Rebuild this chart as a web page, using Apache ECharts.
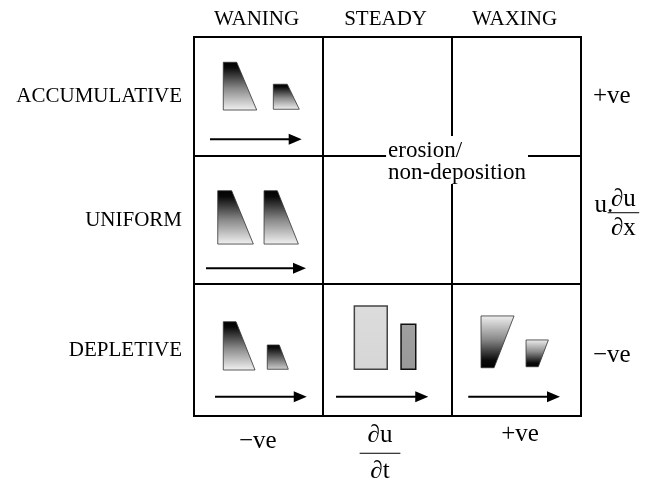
<!DOCTYPE html>
<html><head><meta charset="utf-8">
<script src="https://cdn.jsdelivr.net/npm/echarts@6/dist/echarts.min.js"></script>
<style>html,body{margin:0;padding:0;background:#fff}#c{width:649px;height:483px}</style>
</head><body><div id="c"></div>
<script>
// ---- data ----
const columns = ['WANING', 'STEADY', 'WAXING'];
const rows = ['ACCUMULATIVE', 'UNIFORM', 'DEPLETIVE'];
const rowEdges = [0, 0.942, 1.955, 3];
const rightSigns = ['+ve', '−ve'];
const rightFraction = ['u.', '∂u', '∂x'];
const bottomSigns = ['−ve', '+ve'];
const bottomFraction = ['∂u', '∂t'];
const centerNote = ['erosion/', 'non-deposition'];
// trapezoids: [xLeft, xTopRight, xBottomRight, yTop, yBottom]
const trapezoids = [
  [0.227, 0.331, 0.486, 0.200, 0.578],
  [0.615, 0.723, 0.816, 0.374, 0.572],
  [0.184, 0.292, 0.460, 1.217, 1.639],
  [0.543, 0.646, 0.809, 1.217, 1.639],
  [0.227, 0.326, 0.473, 2.254, 2.636],
  [0.568, 0.661, 0.731, 2.438, 2.630],
  [2.225, 2.481, 2.326, 2.208, 2.618],
  [2.574, 2.747, 2.669, 2.398, 2.610]
];
const trapShading = ['down', 'down', 'down', 'down', 'down', 'downDark', 'up', 'up'];
// rectangles: [x0, x1, y0, y1]
const blocks = [
  [1.243, 1.498, 2.129, 2.630],
  [1.605, 1.719, 2.274, 2.630]
];
const blockShading = ['light', 'mid'];
// arrows: [x0, x1, y]
const arrows = [
  [0.124, 0.835, 0.810],
  [0.093, 0.868, 1.831],
  [0.163, 0.874, 2.847],
  [1.101, 1.816, 2.847],
  [2.126, 2.837, 2.847]
];
// frame lines: [x1, y1, x2, y2]
const frameLines = [
  [0, 0, 3, 0], [0, 3, 3, 3], [0, 0, 0, 3], [3, 0, 3, 3],
  [1, 0, 1, 3], [2, 0, 2, 0.776], [2, 1.172, 2, 3],
  [0, 0.942, 1.481, 0.942], [2.597, 0.942, 3, 0.942],
  [0, 1.955, 3, 1.955]
];

// ---- styles ----
const FONT = "'Liberation Serif','Times New Roman',serif";
const shades = {
  down: [[0, '#000'], [0.12, '#0a0a0a'], [0.55, '#8a8a8a'], [1, '#f2f2f2']],
  downDark: [[0, '#000'], [0.15, '#111'], [0.6, '#777'], [1, '#d0d0d0']],
  up: [[0, '#f0f0f0'], [0.45, '#8a8a8a'], [0.85, '#0a0a0a'], [1, '#000']],
  light: [[0, '#dcdcdc'], [1, '#d6d6d6']],
  mid: [[0, '#a0a0a0'], [1, '#999']]
};
function grad(name) {
  return { type: 'linear', x: 0, y: 0, x2: 0, y2: 1, global: false,
    colorStops: shades[name].map(s => ({ offset: s[0], color: s[1] })) };
}
function txt(x, y, text, size, align, valign) {
  return { type: 'text', x: x, y: y,
    style: { text: text, font: size + 'px ' + FONT, fill: '#000',
      textAlign: align, textVerticalAlign: valign || 'middle',
      align: align, verticalAlign: valign || 'middle' } };
}
const rowMid = i => (rowEdges[i] + rowEdges[i + 1]) / 2;

// ---- text layout items (position in axis units) ----
const labelItems = [];
columns.forEach((c, i) => labelItems.push({ x: i + 0.485, y: -0.140, t: c, s: 21, a: 'center' }));
rows.forEach((r, i) => labelItems.push({ x: -0.093, y: rowMid(i), t: r, s: 21, a: 'right' }));
labelItems.push({ x: 3.093, y: rowMid(0), t: rightSigns[0], s: 25, a: 'left' });
labelItems.push({ x: 3.093, y: rowMid(2) + 0.04, t: rightSigns[1], s: 25, a: 'left' });
labelItems.push({ x: 3.105, y: 1.33, t: rightFraction[0], s: 25, a: 'left' });
labelItems.push({ x: 0.494, y: 3.198, t: bottomSigns[0], s: 25, a: 'center' });
labelItems.push({ x: 2.527, y: 3.143, t: bottomSigns[1], s: 25, a: 'center' });
labelItems.push({ x: 1.504, y: 0.900, t: centerNote[0], s: 23, a: 'left' });
labelItems.push({ x: 1.504, y: 1.075, t: centerNote[1], s: 23, a: 'left' });
const fractionItems = [
  { x: 3.329, y: 1.391, hw: 0.122, num: rightFraction[1], den: rightFraction[2], dn: -13, dd: 16 },
  { x: 1.442, y: 3.295, hw: 0.158, num: bottomFraction[0], den: bottomFraction[1], dn: -18, dd: 18 }
];

const chart = echarts.init(document.getElementById('c'), null, { renderer: 'canvas' });
chart.setOption({
  animation: false,
  backgroundColor: '#fff',
  grid: { left: 194, right: 68, top: 37, bottom: 67 },
  xAxis: { type: 'value', min: 0, max: 3, show: false },
  yAxis: { type: 'value', min: 0, max: 3, inverse: true, show: false },
  series: [
    {
      type: 'custom', clip: false, silent: true,
      data: trapezoids,
      renderItem: (p, api) => {
        const xl = api.value(0), xtr = api.value(1), xbr = api.value(2), yt = api.value(3), yb = api.value(4);
        const pts = [api.coord([xl, yt]), api.coord([xtr, yt]), api.coord([xbr, yb]), api.coord([xl, yb])];
        return { type: 'polygon', shape: { points: pts },
          style: { fill: grad(trapShading[p.dataIndex]), stroke: '#333', lineWidth: 0.8 } };
      }
    },
    {
      type: 'custom', clip: false, silent: true,
      data: blocks,
      renderItem: (p, api) => {
        const a = api.coord([api.value(0), api.value(2)]);
        const b = api.coord([api.value(1), api.value(3)]);
        return { type: 'rect', shape: { x: a[0], y: a[1], width: b[0] - a[0], height: b[1] - a[1] },
          style: { fill: grad(blockShading[p.dataIndex]), stroke: p.dataIndex ? '#111' : '#444', lineWidth: 1.5 } };
      }
    },
    {
      type: 'custom', clip: false, silent: true,
      data: arrows,
      renderItem: (p, api) => {
        const a = api.coord([api.value(0), api.value(2)]);
        const b = api.coord([api.value(1), api.value(2)]);
        const hl = 13, hw = 5.5;
        return { type: 'group', children: [
          { type: 'line', shape: { x1: a[0], y1: a[1], x2: b[0] - hl + 1, y2: b[1] }, style: { stroke: '#000', lineWidth: 2 } },
          { type: 'polygon', shape: { points: [[b[0], b[1]], [b[0] - hl, b[1] - hw], [b[0] - hl, b[1] + hw]] }, style: { fill: '#000' } }
        ] };
      }
    },
    {
      type: 'custom', clip: false, silent: true,
      data: frameLines,
      renderItem: (p, api) => {
        const a = api.coord([api.value(0), api.value(1)]);
        const b = api.coord([api.value(2), api.value(3)]);
        return { type: 'line', shape: { x1: a[0], y1: a[1], x2: b[0], y2: b[1] },
          style: { stroke: '#000', lineWidth: 2, lineCap: 'square' } };
      }
    },
    {
      type: 'custom', clip: false, silent: true,
      data: labelItems.map(l => [l.x, l.y]),
      renderItem: (p, api) => {
        const l = labelItems[p.dataIndex];
        const c = api.coord([api.value(0), api.value(1)]);
        return txt(c[0], c[1], l.t, l.s, l.a);
      }
    },
    {
      type: 'custom', clip: false, silent: true,
      data: fractionItems.map(f => [f.x, f.y]),
      renderItem: (p, api) => {
        const f = fractionItems[p.dataIndex];
        const c = api.coord([api.value(0), api.value(1)]);
        const l = api.coord([f.x - f.hw, f.y]);
        const r = api.coord([f.x + f.hw, f.y]);
        return { type: 'group', children: [
          txt(c[0], c[1] + f.dn, f.num, 25, 'center'),
          { type: 'line', shape: { x1: l[0], y1: c[1], x2: r[0], y2: c[1] }, style: { stroke: '#000', lineWidth: 1 } },
          txt(c[0], c[1] + f.dd, f.den, 25, 'center')
        ] };
      }
    }
  ]
});
</script>
</body></html>
